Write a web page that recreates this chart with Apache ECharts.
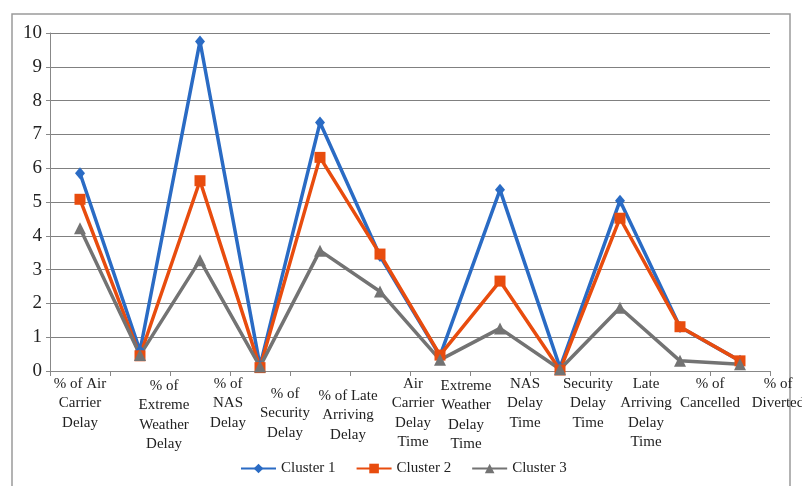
<!DOCTYPE html>
<html>
<head>
<meta charset="utf-8">
<script src="https://cdn.jsdelivr.net/npm/echarts@6/dist/echarts.min.js"></script>
<style>html,body{margin:0;padding:0;background:#fff}#c{width:802px;height:486px}</style>
</head>
<body>
<div id="c"></div>
<script>
const categories = [
  "% of Air\nCarrier\nDelay",
  "% of\nExtreme\nWeather\nDelay",
  "% of\nNAS\nDelay",
  "% of\nSecurity\nDelay",
  "% of Late\nArriving\nDelay",
  "Air\nCarrier\nDelay\nTime",
  "Extreme\nWeather\nDelay\nTime",
  "NAS\nDelay\nTime",
  "Security\nDelay\nTime",
  "Late\nArriving\nDelay\nTime",
  "% of\nCancelled",
  "% of\nDiverted"
];
const cluster1 = [5.85, 0.6, 9.75, 0.15, 7.35, 3.4, 0.45, 5.36, 0.1, 5.04, 1.3, 0.3];
const cluster2 = [5.08, 0.45, 5.63, 0.1, 6.32, 3.46, 0.47, 2.66, 0.03, 4.52, 1.31, 0.3];
const cluster3 = [4.22, 0.47, 3.28, 0.13, 3.56, 2.35, 0.33, 1.26, 0.05, 1.87, 0.3, 0.2];
const yTicks = [0, 1, 2, 3, 4, 5, 6, 7, 8, 9, 10];

// label placement tweaks (horizontal shift, extra top space) to mimic the original layout
const labelShift = [0, 24, 28, 25, 28, 33, 26, 25, 28, 26, 30, 38];
const labelDrop  = [0, 1, 0, 5, 6, 0, 1, 0, 0, 0, 0, 0];

const FONT = "'Liberation Serif', 'DejaVu Serif', serif";
const rich = {};
labelShift.forEach((s, i) => {
  rich['f' + i] = { fontFamily: FONT, fontSize: 15, color: '#222', lineHeight: 19.5 + labelDrop[i] * 2, padding: [labelDrop[i] * 2, 0, 0, s * 2] };
  rich['l' + i] = { fontFamily: FONT, fontSize: 15, color: '#222', lineHeight: 19.5, padding: [0, 0, 0, s * 2] };
});

const chart = echarts.init(document.getElementById('c'), null, { renderer: 'canvas' });
const mk = (name, data, color, symbol, size) => ({
  name, type: 'line', data,
  symbol, symbolSize: size, showSymbol: true,
  lineStyle: { color, width: 3.5 },
  itemStyle: { color },
  emphasis: { disabled: true }
});
chart.setOption({
  animation: false,
  backgroundColor: '#fff',
  graphic: [{
    type: 'rect', shape: { x: 12, y: 14, width: 778, height: 490 },
    style: { fill: 'none', stroke: '#9a9a9a', lineWidth: 1.5 }, silent: true, z: -1
  }],
  grid: { left: 50, right: 32, top: 33, bottom: 115, containLabel: false, outerBoundsMode: 'none' },
  legend: {
    left: 235, top: 456, itemWidth: 35, itemHeight: 12, itemGap: 20,
    textStyle: { fontFamily: FONT, fontSize: 15, color: '#222' },
    data: ['Cluster 1', 'Cluster 2', 'Cluster 3']
  },
  xAxis: {
    type: 'category', data: categories, boundaryGap: true,
    axisLine: { lineStyle: { color: '#888', width: 1 } },
    axisTick: { show: true, length: 5, lineStyle: { color: '#888' } },
    axisLabel: {
      interval: 0, margin: 3, hideOverlap: false,
      formatter: (v, i) => v.split('\n').map((l, k) => '{' + (k === 0 ? 'f' : 'l') + i + '|' + l + '}').join('\n'),
      rich
    }
  },
  yAxis: {
    type: 'value', min: yTicks[0], max: yTicks[yTicks.length - 1], interval: 1,
    axisLine: { show: true, lineStyle: { color: '#888', width: 1 } },
    axisTick: { show: true, length: 4, lineStyle: { color: '#888' } },
    splitLine: { lineStyle: { color: '#808080', width: 1.2 } },
    axisLabel: { fontFamily: FONT, fontSize: 19, color: '#222', margin: 8 }
  },
  series: [
    mk('Cluster 1', cluster1, '#2a6bc4', 'diamond', [10, 12]),
    mk('Cluster 2', cluster2, '#e84c0e', 'rect', 11),
    mk('Cluster 3', cluster3, '#737373', 'triangle', 12)
  ]
});
</script>
</body>
</html>
